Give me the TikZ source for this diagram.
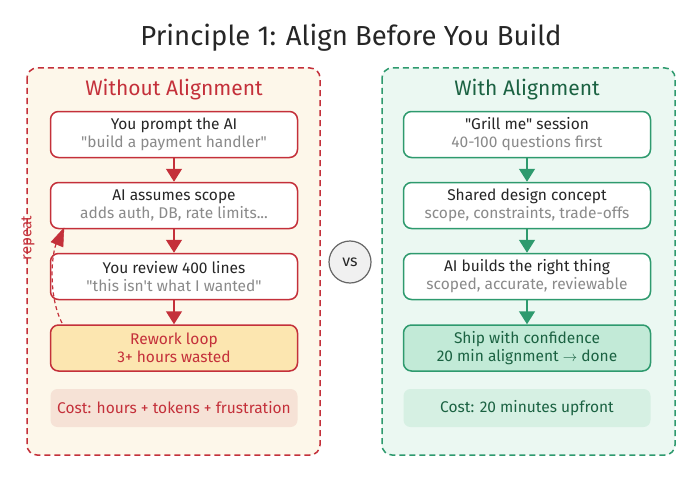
\documentclass[tikz,border=0pt]{standalone}
\usepackage{fontspec}
\setmainfont{Fira Sans}[Ligatures=TeXOff]
\usetikzlibrary{arrows.meta,shapes.geometric}
\definecolor{redc}{HTML}{C4303A}
\definecolor{redbg}{HTML}{FDF7EA}
\definecolor{redfill}{HTML}{FCE6B0}
\definecolor{redcost}{HTML}{F6E2D6}
\definecolor{grnc}{HTML}{2E9A6E}
\definecolor{grndark}{HTML}{1B6242}
\definecolor{grnbg}{HTML}{EBF8F2}
\definecolor{grnfill}{HTML}{C2EAD7}
\definecolor{grncost}{HTML}{D6F0E3}
\definecolor{txt}{HTML}{262626}
\definecolor{subt}{HTML}{8A8A8A}
\tikzset{
  panel/.style={draw=#1, dash pattern=on 6pt off 4pt, line width=1.5pt, rounded corners=10pt},
  stepbox/.style={draw=#1, line width=1.5pt, rounded corners=8pt, fill=white, minimum width=247pt, minimum height=46pt, align=center, inner sep=0pt, text=txt, font=\fontsize{15.5}{18}\selectfont},
  costbox/.style={rounded corners=7pt, minimum width=247pt, minimum height=38pt, inner sep=0pt, font=\fontsize{15.5}{18}\selectfont},
  flow/.style={draw=#1, line width=1.5pt, -{Triangle[length=13pt,width=16pt]}},
}
\newcommand{\subl}[1]{{\color{subt}#1}}
\begin{document}
\begin{tikzpicture}[x=1pt,y=-1pt]
\useasboundingbox (0,0) rectangle (700,484);
\fill[white] (0,0) rectangle (700,484);
\node[font=\fontsize{27.5}{32}\selectfont, text=txt] (title) at (351,38) {Principle 1: Align Before You Build};
% panels
\draw[panel=redc, fill=redbg] (27,68) rectangle (320,455);
\draw[panel=grnc, fill=grnbg] (382,68) rectangle (675,455);
\node[font=\fontsize{21}{24}\selectfont, text=redc] (lt) at (174,90) {Without Alignment};
\node[font=\fontsize{21}{24}\selectfont, text=grndark] (rt) at (527,90) {With Alignment};
% left steps
\node[stepbox=redc] (l1) at (174,134.5) {You prompt the AI\\\subl{"build a payment handler"}};
\node[stepbox=redc] (l2) at (174,205.5) {AI assumes scope\\\subl{adds auth, DB, rate limits...}};
\node[stepbox=redc] (l3) at (174,276.5) {You review 400 lines\\\subl{"this isn't what I wanted"}};
\node[stepbox=redc, fill=redfill, text=redc] (l4) at (174,348) {Rework loop\\3+ hours wasted};
\node[costbox, fill=redcost, text=redc] (lc) at (174,408) {Cost: hours + tokens + frustration};
\draw[flow=redc] (l1) -- (l2);
\draw[flow=redc] (l2) -- (l3);
\draw[flow=redc] (l3) -- (l4);
% repeat loop
\coordinate (rs) at (62,323);
\draw[redc, line width=1.2pt, dash pattern=on 4pt off 3pt] (rs) .. controls (50,300) and (50,262) .. (56,244);
\draw[redc, fill=redc] (64,228) -- (51,242) -- (63,247) -- cycle;
\node[rotate=90, text=redc, font=\fontsize{15}{16}\selectfont] (rep) at (28,238) {repeat};
% right steps
\node[stepbox=grnc] (r1) at (527,134.5) {"Grill me" session\\\subl{40-100 questions first}};
\node[stepbox=grnc] (r2) at (527,205.5) {Shared design concept\\\subl{scope, constraints, trade-offs}};
\node[stepbox=grnc] (r3) at (527,276.5) {AI builds the right thing\\\subl{scoped, accurate, reviewable}};
\node[stepbox=grnc, fill=grnfill, text=grndark] (r4) at (527,348) {Ship with confidence\\20 min alignment $\rightarrow$ done};
\node[costbox, fill=grncost, text=grndark] (rc) at (527,408) {Cost: 20 minutes upfront};
\draw[flow=grnc] (r1) -- (r2);
\draw[flow=grnc] (r2) -- (r3);
\draw[flow=grnc] (r3) -- (r4);
% vs
\node[circle, draw=gray!80!black, fill=gray!12, line width=1.2pt, minimum size=42pt, inner sep=0pt, text=txt, font=\fontsize{16}{18}\selectfont] (vs) at (350,262) {vs};
\end{tikzpicture}
\end{document}
